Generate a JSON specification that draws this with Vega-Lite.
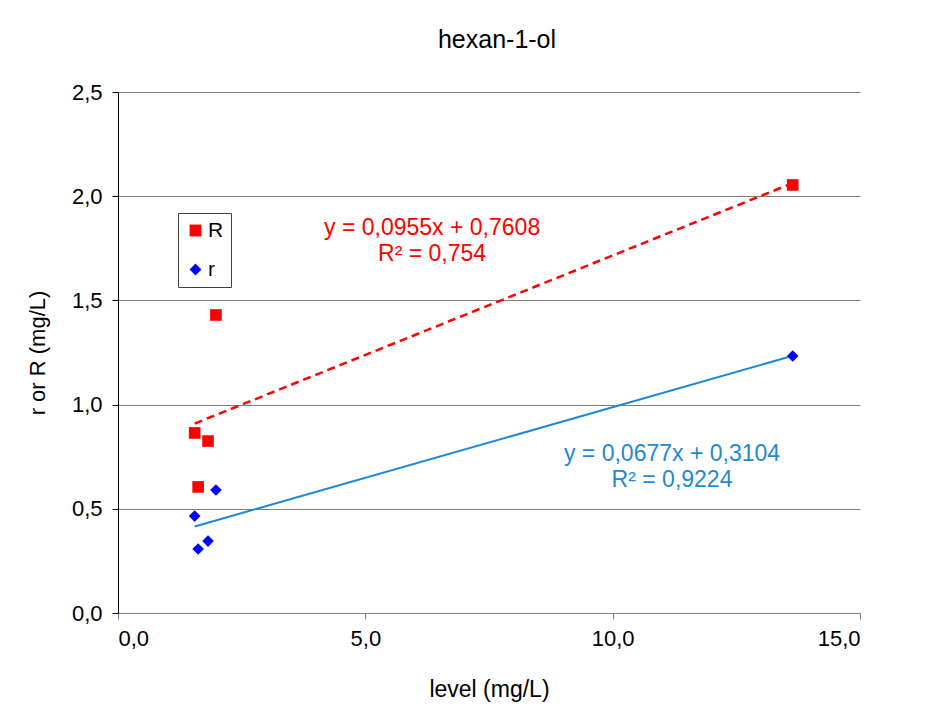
{
  "$schema": "https://vega.github.io/schema/vega-lite/v6.json",
  "width": 742,
  "height": 521,
  "autosize": {"type": "none"},
  "padding": {"left": 118, "top": 92, "right": 78, "bottom": 113},
  "background": "white",
  "title": {"text": "hexan-1-ol", "fontSize": 25, "font": "Liberation Sans", "fontWeight": "normal", "color": "#000000", "offset": 28, "dx": 8},
  "config": {"view": {"stroke": null}, "font": "Liberation Sans"},
  "datasets": {
    "pts": [
      {"level": 1.55, "value": 0.864, "series": "R"},
      {"level": 1.62, "value": 0.605, "series": "R"},
      {"level": 1.82, "value": 0.825, "series": "R"},
      {"level": 1.98, "value": 1.43, "series": "R"},
      {"level": 13.64, "value": 2.054, "series": "R"},
      {"level": 1.55, "value": 0.465, "series": "r"},
      {"level": 1.62, "value": 0.307, "series": "r"},
      {"level": 1.82, "value": 0.345, "series": "r"},
      {"level": 1.98, "value": 0.59, "series": "r"},
      {"level": 13.64, "value": 1.233, "series": "r"}
    ],
    "trend": [
      {"level": 1.55, "value": 0.909, "series": "R"},
      {"level": 13.64, "value": 2.063, "series": "R"},
      {"level": 1.55, "value": 0.415, "series": "r"},
      {"level": 13.64, "value": 1.234, "series": "r"}
    ],
    "notes": [
      {"level": 6.35, "value": 1.847, "series": "R", "label": "y = 0,0955x + 0,7608"},
      {"level": 6.35, "value": 1.723, "series": "R", "label": "R² = 0,754"},
      {"level": 11.2, "value": 0.763, "series": "r", "label": "y = 0,0677x + 0,3104"},
      {"level": 11.2, "value": 0.638, "series": "r", "label": "R² = 0,9224"}
    ]
  },
  "encoding": {
    "x": {
      "field": "level", "type": "quantitative",
      "scale": {"domain": [0, 15], "nice": false, "zero": true},
      "axis": {
        "title": "level (mg/L)", "values": [0, 5, 10, 15],
        "labelExpr": "replace(format(datum.value,'.1f'),'.',',')",
        "grid": false, "domainColor": "#808080", "tickColor": "#808080", "tickSize": 6,
        "labelFontSize": 22, "labelColor": "#000000", "labelPadding": 9,
        "titleFontSize": 23, "titleFontWeight": "normal", "titleColor": "#000000", "titlePadding": 29
      }
    },
    "y": {
      "field": "value", "type": "quantitative",
      "scale": {"domain": [0, 2.5], "nice": false},
      "axis": {
        "title": "r or R (mg/L)", "values": [0, 0.5, 1, 1.5, 2, 2.5],
        "labelExpr": "replace(format(datum.value,'.1f'),'.',',')",
        "grid": true, "gridColor": "#808080", "gridWidth": 1,
        "domainColor": "#000000", "tickColor": "#000000", "tickSize": 6,
        "labelFontSize": 22, "labelColor": "#000000", "labelPadding": 10,
        "titleFontSize": 22, "titleFontWeight": "normal", "titleColor": "#000000", "titlePadding": 22
      }
    }
  },
  "layer": [
    {
      "data": {"name": "trend"},
      "transform": [{"filter": "datum.series === 'R'"}],
      "mark": {"type": "line", "color": "#ff0000", "strokeWidth": 2.5, "strokeDash": [8, 5]}
    },
    {
      "data": {"name": "trend"},
      "transform": [{"filter": "datum.series === 'r'"}],
      "mark": {"type": "line", "color": "#1f88d4", "strokeWidth": 2}
    },
    {
      "data": {"name": "pts"},
      "mark": {"type": "point", "filled": true, "opacity": 1},
      "encoding": {
        "color": {
          "field": "series", "type": "nominal",
          "scale": {"domain": ["R", "r"], "range": ["#ff0000", "#0000ff"]},
          "legend": {"title": null, "orient": "none", "legendX": 60, "legendY": 121, "strokeColor": "#404040", "padding": 7, "labelFontSize": 21, "labelColor": "#000000", "rowPadding": 17, "symbolSize": 140, "symbolStrokeWidth": 0, "labelOffset": 2}
        },
        "shape": {
          "field": "series", "type": "nominal",
          "scale": {"domain": ["R", "r"], "range": ["square", "diamond"]},
          "legend": {"title": null, "orient": "none", "legendX": 60, "legendY": 121, "strokeColor": "#404040", "padding": 7, "labelFontSize": 21, "labelColor": "#000000", "rowPadding": 17, "symbolSize": 140, "symbolStrokeWidth": 0, "labelOffset": 2}
        },
        "size": {"value": 135}
      }
    },
    {
      "data": {"name": "notes"},
      "transform": [{"filter": "datum.series === 'R'"}],
      "mark": {"type": "text", "color": "#ff0000", "fontSize": 23, "align": "center", "baseline": "middle"},
      "encoding": {"text": {"field": "label"}}
    },
    {
      "data": {"name": "notes"},
      "transform": [{"filter": "datum.series === 'r'"}],
      "mark": {"type": "text", "color": "#1f88d4", "fontSize": 23, "align": "center", "baseline": "middle"},
      "encoding": {"text": {"field": "label"}}
    }
  ]
}
